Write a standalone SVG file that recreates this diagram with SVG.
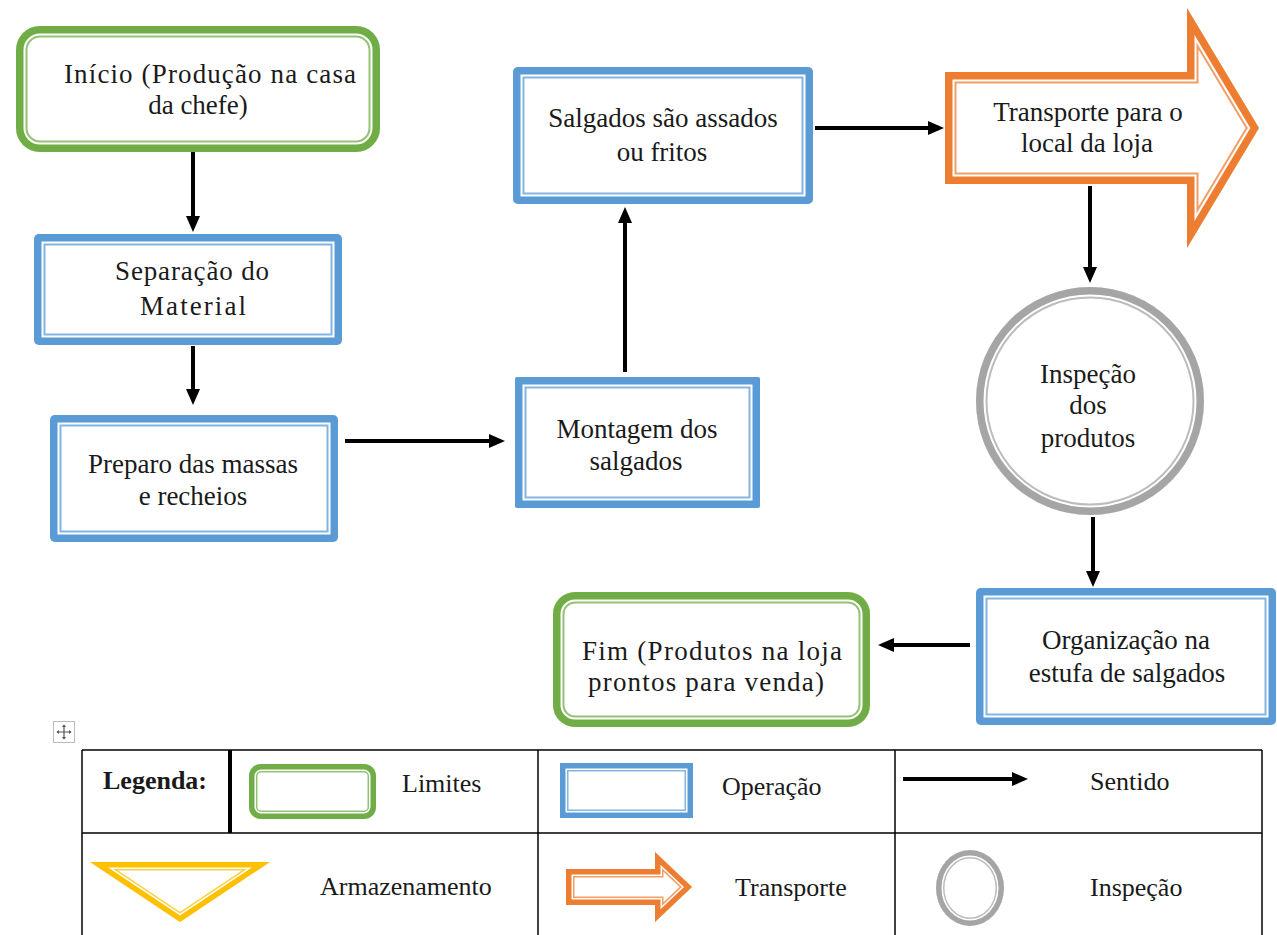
<svg xmlns="http://www.w3.org/2000/svg" xmlns:xlink="http://www.w3.org/1999/xlink" width="1277" height="935" viewBox="0 0 1277 935">
  <style>
    text { font-family: "Liberation Serif", "Times New Roman", serif; font-size: 26px; fill: #1a1a1a; text-anchor: middle; }
    .node text { font-size: 27px; }
    text.lg { text-anchor: start; }
    .bold { font-weight: bold; }
    .fill { fill: #fff; stroke: none; }
    .thin { fill: none; stroke-width: 23; }
    .gap { fill: none; stroke: #fff; stroke-width: 19; }
    .thick { fill: none; stroke-width: 15; }
    .s .thin { stroke-width: 17; }
    .s .gap { stroke-width: 14; }
    .s .thick { stroke-width: 11; }
    .green { stroke: #70ad47; }
    .blue { stroke: #5b9bd5; }
    .orange { stroke: #ed7d31; }
    .gray { stroke: #a5a5a5; }
    .yellow { stroke: #ffc000; }
    .lite { stroke-opacity: 0.75; }
    .conn line { stroke: #000; stroke-width: 4; marker-end: url(#head); }
    .grid line { stroke: #000; stroke-width: 1.5; }
  </style>
  <defs>
    <marker id="head" viewBox="0 0 16 14" refX="6" refY="7" markerWidth="16" markerHeight="14" markerUnits="userSpaceOnUse" orient="auto">
      <path d="M0,0 L16,7 L0,14 z" fill="#000"/>
    </marker>
    <!-- node outlines -->
    <rect id="sh-start" x="16" y="26" width="364" height="126" rx="24"/>
    <rect id="sh-sep" x="34" y="234" width="308" height="111" rx="5"/>
    <rect id="sh-prep" x="50" y="415" width="288" height="127" rx="5"/>
    <rect id="sh-mont" x="515" y="377" width="245" height="131" rx="2"/>
    <rect id="sh-salg" x="513" y="67" width="300" height="137" rx="5"/>
    <polygon id="sh-trans" points="945,72 1187,72 1187,8 1259,128 1187,248 1187,184 945,184"/>
    <circle id="sh-insp" cx="1090" cy="401" r="114"/>
    <rect id="sh-org" x="976" y="588" width="300" height="137" rx="5"/>
    <rect id="sh-fim" x="553" y="592" width="317" height="135" rx="22"/>
    <!-- legend symbols -->
    <rect id="sh-lim" x="249" y="764" width="127" height="55" rx="12"/>
    <rect id="sh-op" x="560" y="763" width="133" height="55"/>
    <polygon id="sh-tri" points="90,862 270,862 180,922"/>
    <polygon id="sh-tr" points="566,869 655,869 655,852 692,887 655,922 655,905 566,905"/>
    <ellipse id="sh-el" cx="970" cy="888" rx="34" ry="38"/>
    <clipPath id="c-start"><use xlink:href="#sh-start"/></clipPath>
    <clipPath id="c-sep"><use xlink:href="#sh-sep"/></clipPath>
    <clipPath id="c-prep"><use xlink:href="#sh-prep"/></clipPath>
    <clipPath id="c-mont"><use xlink:href="#sh-mont"/></clipPath>
    <clipPath id="c-salg"><use xlink:href="#sh-salg"/></clipPath>
    <clipPath id="c-trans"><use xlink:href="#sh-trans"/></clipPath>
    <clipPath id="c-insp"><use xlink:href="#sh-insp"/></clipPath>
    <clipPath id="c-org"><use xlink:href="#sh-org"/></clipPath>
    <clipPath id="c-fim"><use xlink:href="#sh-fim"/></clipPath>
    <clipPath id="c-lim"><use xlink:href="#sh-lim"/></clipPath>
    <clipPath id="c-op"><use xlink:href="#sh-op"/></clipPath>
    <clipPath id="c-tri"><use xlink:href="#sh-tri"/></clipPath>
    <clipPath id="c-tr"><use xlink:href="#sh-tr"/></clipPath>
    <clipPath id="c-el"><use xlink:href="#sh-el"/></clipPath>
  </defs>

  <rect width="1277" height="935" fill="#fff"/>

  <!-- connectors -->
  <g id="connectors" class="conn">
    <line x1="193" y1="152" x2="193" y2="222"/>
    <line x1="193" y1="346" x2="193" y2="395"/>
    <line x1="345" y1="441" x2="495" y2="441"/>
    <line x1="625" y1="372" x2="625" y2="217"/>
    <line x1="815" y1="128" x2="934" y2="128"/>
    <line x1="1090" y1="186" x2="1090" y2="273"/>
    <line x1="1093" y1="517" x2="1093" y2="577"/>
    <line x1="970" y1="645" x2="888" y2="645"/>
  </g>

  <!-- process nodes: thick outer band, white gap, thin inner line -->
  <g id="inicio" class="node">
    <g clip-path="url(#c-start)">
      <use xlink:href="#sh-start" class="fill"/>
      <use xlink:href="#sh-start" class="thin green lite"/>
      <use xlink:href="#sh-start" class="gap"/>
      <use xlink:href="#sh-start" class="thick green"/>
    </g>
    <text x="210" y="83" textLength="292" lengthAdjust="spacing">Início (Produção na casa</text>
    <text x="198" y="114">da chefe)</text>
  </g>

  <g id="separacao" class="node">
    <g clip-path="url(#c-sep)">
      <use xlink:href="#sh-sep" class="fill"/>
      <use xlink:href="#sh-sep" class="thin blue lite"/>
      <use xlink:href="#sh-sep" class="gap"/>
      <use xlink:href="#sh-sep" class="thick blue"/>
    </g>
    <text x="192" y="280" textLength="154" lengthAdjust="spacing">Separação do</text>
    <text x="193" y="315" textLength="106" lengthAdjust="spacing">Material</text>
  </g>

  <g id="preparo" class="node">
    <g clip-path="url(#c-prep)">
      <use xlink:href="#sh-prep" class="fill"/>
      <use xlink:href="#sh-prep" class="thin blue lite"/>
      <use xlink:href="#sh-prep" class="gap"/>
      <use xlink:href="#sh-prep" class="thick blue"/>
    </g>
    <text x="193" y="473">Preparo das massas</text>
    <text x="193" y="505">e recheios</text>
  </g>

  <g id="montagem" class="node">
    <g clip-path="url(#c-mont)">
      <use xlink:href="#sh-mont" class="fill"/>
      <use xlink:href="#sh-mont" class="thin blue lite"/>
      <use xlink:href="#sh-mont" class="gap"/>
      <use xlink:href="#sh-mont" class="thick blue"/>
    </g>
    <text x="637" y="438">Montagem dos</text>
    <text x="636" y="470">salgados</text>
  </g>

  <g id="assados" class="node">
    <g clip-path="url(#c-salg)">
      <use xlink:href="#sh-salg" class="fill"/>
      <use xlink:href="#sh-salg" class="thin blue lite"/>
      <use xlink:href="#sh-salg" class="gap"/>
      <use xlink:href="#sh-salg" class="thick blue"/>
    </g>
    <text x="663" y="127">Salgados são assados</text>
    <text x="662" y="161">ou fritos</text>
  </g>

  <g id="transporte" class="node">
    <g clip-path="url(#c-trans)">
      <use xlink:href="#sh-trans" class="fill"/>
      <use xlink:href="#sh-trans" class="thin orange lite"/>
      <use xlink:href="#sh-trans" class="gap"/>
      <use xlink:href="#sh-trans" class="thick orange"/>
    </g>
    <text x="1088" y="121">Transporte para o</text>
    <text x="1087" y="152">local da loja</text>
  </g>

  <g id="inspecao" class="node">
    <g clip-path="url(#c-insp)">
      <use xlink:href="#sh-insp" class="fill"/>
      <use xlink:href="#sh-insp" class="thin gray lite"/>
      <use xlink:href="#sh-insp" class="gap"/>
      <use xlink:href="#sh-insp" class="thick gray"/>
    </g>
    <text x="1088" y="383">Inspeção</text>
    <text x="1088" y="414">dos</text>
    <text x="1088" y="447">produtos</text>
  </g>

  <g id="organizacao" class="node">
    <g clip-path="url(#c-org)">
      <use xlink:href="#sh-org" class="fill"/>
      <use xlink:href="#sh-org" class="thin blue lite"/>
      <use xlink:href="#sh-org" class="gap"/>
      <use xlink:href="#sh-org" class="thick blue"/>
    </g>
    <text x="1126" y="649">Organização na</text>
    <text x="1127" y="682">estufa de salgados</text>
  </g>

  <g id="fim" class="node">
    <g clip-path="url(#c-fim)">
      <use xlink:href="#sh-fim" class="fill"/>
      <use xlink:href="#sh-fim" class="thin green lite"/>
      <use xlink:href="#sh-fim" class="gap"/>
      <use xlink:href="#sh-fim" class="thick green"/>
    </g>
    <text x="712" y="660" textLength="260" lengthAdjust="spacing">Fim (Produtos na loja</text>
    <text x="706" y="691" textLength="236" lengthAdjust="spacing">prontos para venda)</text>
  </g>

  <!-- table move handle -->
  <g id="move-handle" stroke="#8a8a8a" fill="none">
    <rect x="53.5" y="721.5" width="21" height="21" stroke="#bdbdbd"/>
    <path d="M64,725 V739 M57,732 H71" stroke-width="1.2" stroke="#555"/>
    <path d="M62,727 L64,724.5 L66,727 Z M62,737 L64,739.5 L66,737 Z M59,730 L56.5,732 L59,734 Z M69,730 L71.5,732 L69,734 Z" fill="#555" stroke="none"/>
  </g>

  <!-- legend table -->
  <g id="legenda">
    <g class="grid">
      <line x1="82" y1="750" x2="1262" y2="750"/>
      <line x1="82" y1="833" x2="1262" y2="833"/>
      <line x1="82" y1="750" x2="82" y2="935"/>
      <line x1="538" y1="750" x2="538" y2="935"/>
      <line x1="895" y1="750" x2="895" y2="935"/>
      <line x1="1262" y1="750" x2="1262" y2="935"/>
    </g>
    <line x1="230" y1="750" x2="230" y2="833" stroke="#000" stroke-width="4"/>

    <text class="lg bold" x="103" y="789">Legenda:</text>

    <g class="s" clip-path="url(#c-lim)">
      <use xlink:href="#sh-lim" class="fill"/>
      <use xlink:href="#sh-lim" class="thin green lite"/>
      <use xlink:href="#sh-lim" class="gap"/>
      <use xlink:href="#sh-lim" class="thick green"/>
    </g>
    <text class="lg" x="402" y="792">Limites</text>

    <g class="s" clip-path="url(#c-op)">
      <use xlink:href="#sh-op" class="fill"/>
      <use xlink:href="#sh-op" class="thin blue lite"/>
      <use xlink:href="#sh-op" class="gap"/>
      <use xlink:href="#sh-op" class="thick blue"/>
    </g>
    <text class="lg" x="722" y="795">Operação</text>

    <line x1="903" y1="779" x2="1018" y2="779" stroke="#000" stroke-width="4" marker-end="url(#head)"/>
    <text class="lg" x="1090" y="790">Sentido</text>

    <g class="s" clip-path="url(#c-tri)">
      <use xlink:href="#sh-tri" class="fill"/>
      <use xlink:href="#sh-tri" class="thin yellow lite"/>
      <use xlink:href="#sh-tri" class="gap"/>
      <use xlink:href="#sh-tri" class="thick yellow"/>
    </g>
    <text class="lg" x="320" y="895">Armazenamento</text>

    <g class="s" clip-path="url(#c-tr)">
      <use xlink:href="#sh-tr" class="fill"/>
      <use xlink:href="#sh-tr" class="thin orange lite"/>
      <use xlink:href="#sh-tr" class="gap"/>
      <use xlink:href="#sh-tr" class="thick orange"/>
    </g>
    <text class="lg" x="735" y="896">Transporte</text>

    <g class="s" clip-path="url(#c-el)">
      <use xlink:href="#sh-el" class="fill"/>
      <use xlink:href="#sh-el" class="thin gray lite"/>
      <use xlink:href="#sh-el" class="gap"/>
      <use xlink:href="#sh-el" class="thick gray"/>
    </g>
    <text class="lg" x="1090" y="896">Inspeção</text>
  </g>
</svg>
